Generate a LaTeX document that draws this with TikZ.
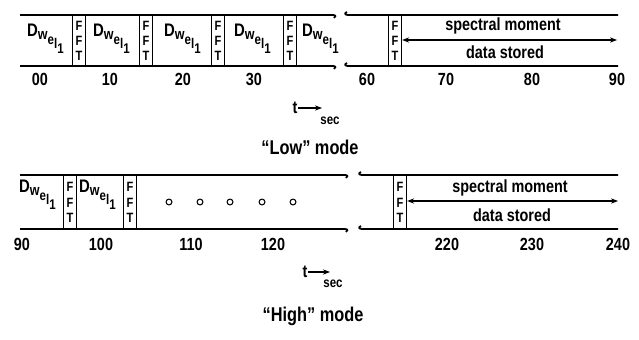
\documentclass[tikz,border=0pt]{standalone}
\usepackage{fontspec}
\setmainfont{Liberation Sans}[FakeStretch=0.82]
\usetikzlibrary{arrows.meta,positioning,calc}

\newcommand{\dwel}{D\raisebox{-0.3ex}{\fontsize{13}{13}\selectfont w\raisebox{-0.6ex}{\fontsize{12}{12}\selectfont e\raisebox{-0.6ex}{l\raisebox{-0.6ex}{1}}}}}

\begin{document}
\begin{tikzpicture}[x=0.03cm,y=-0.03cm,
    rail/.style={line width=1.5pt},
    fftbox/.style={draw,line width=1pt,minimum width=0.39cm,inner sep=0pt,
      align=center,anchor=north west,font=\bfseries\fontsize{11.5}{13}\selectfont},
    dwebox/.style={anchor=north west,inner sep=0pt,font=\bfseries\fontsize{15.5}{17}\selectfont},
    lbl/.style={font=\bfseries\fontsize{15}{17}\selectfont},
    dot/.style={circle,draw,line width=0.9pt,inner sep=0pt,minimum size=5pt},
    >={Stealth[length=6pt,width=4.5pt]}]
    \useasboundingbox (0,0) rectangle (639,340);

    % "Low" mode
    \draw[rail] (20,15) -- (333,15) .. controls (336,15) and (336,17) .. (334,18);
    \draw[rail] (347,12) .. controls (344,13) and (345,15) .. (348,15) -- (618,15);
    \draw[rail] (20,66) -- (333,66) .. controls (336,66) and (336,68) .. (334,69);
    \draw[rail] (347,63) .. controls (344,64) and (345,66) .. (348,66) -- (618,66);
    \foreach \x [count=\i] in {72,139,211,283,388}
      \node[fftbox,minimum height=1.53cm] (fa\i) at (\x,15) {F\\F\\T};
    \foreach \x [count=\i] in {27,93,164,234,302}
      \node[dwebox] (da\i) at (\x,24) {\dwel};
    \node[lbl] (sma) at (503,26) {spectral moment};
    \node[lbl] (dsa) at (505,52) {data stored};
    \coordinate (ea) at (617,40);
    \draw[<->,line width=0.9pt] (fa5.east |- ea) -- (ea);
    \foreach \t/\x in {00/40,10/110,20/183,30/254,60/367,70/446,80/532,90/617}
      \node[lbl] (ta\t) at (\x,79) {\t};
    \node[lbl,inner xsep=0.5pt] (tla) at (295,108) {t};
    \coordinate (tea) at (322,108);
    \draw[->,line width=1pt] (tla.east) -- (tea);
    \node[lbl,font=\bfseries\fontsize{12}{14}\selectfont] (sa) at (330,121) {sec};
    \node[lbl,font=\bfseries\fontsize{17}{20}\selectfont] (ma) at (310,147) {``Low'' mode};

    % "High" mode
    \draw[rail] (20,175) -- (345,175) .. controls (348,175) and (348,177) .. (346,178);
    \draw[rail] (361,172) .. controls (358,173) and (359,175) .. (362,175) -- (618,175);
    \draw[rail] (20,229) -- (345,229) .. controls (348,229) and (348,231) .. (346,232);
    \draw[rail] (361,226) .. controls (358,227) and (359,229) .. (362,229) -- (618,229);
    \foreach \x [count=\i] in {63,123,393}
      \node[fftbox,minimum height=1.62cm] (fb\i) at (\x,175) {F\\F\\T};
    \foreach \x [count=\i] in {19,79}
      \node[dwebox] (db\i) at (\x,180) {\dwel};
    \foreach \x [count=\i] in {169,200,230,262,293}
      \node[dot] (o\i) at (\x,202) {};
    \node[lbl] (smb) at (510,188) {spectral moment};
    \node[lbl] (dsb) at (512,215) {data stored};
    \coordinate (eb) at (618,201);
    \draw[<->,line width=0.9pt] (fb3.east |- eb) -- (eb);
    \foreach \t/\x in {90/22,100/101,110/191,120/273,220/447,230/532,240/618}
      \node[lbl] (tb\t) at (\x,244) {\t};
    \node[lbl,inner xsep=0.5pt] (tlb) at (305,272) {t};
    \coordinate (teb) at (330,272);
    \draw[->,line width=1pt] (tlb.east) -- (teb);
    \node[lbl,font=\bfseries\fontsize{12}{14}\selectfont] (sb) at (333,284) {sec};
    \node[lbl,font=\bfseries\fontsize{17}{20}\selectfont] (mb) at (313,316) {``High'' mode};
\end{tikzpicture}
\end{document}
